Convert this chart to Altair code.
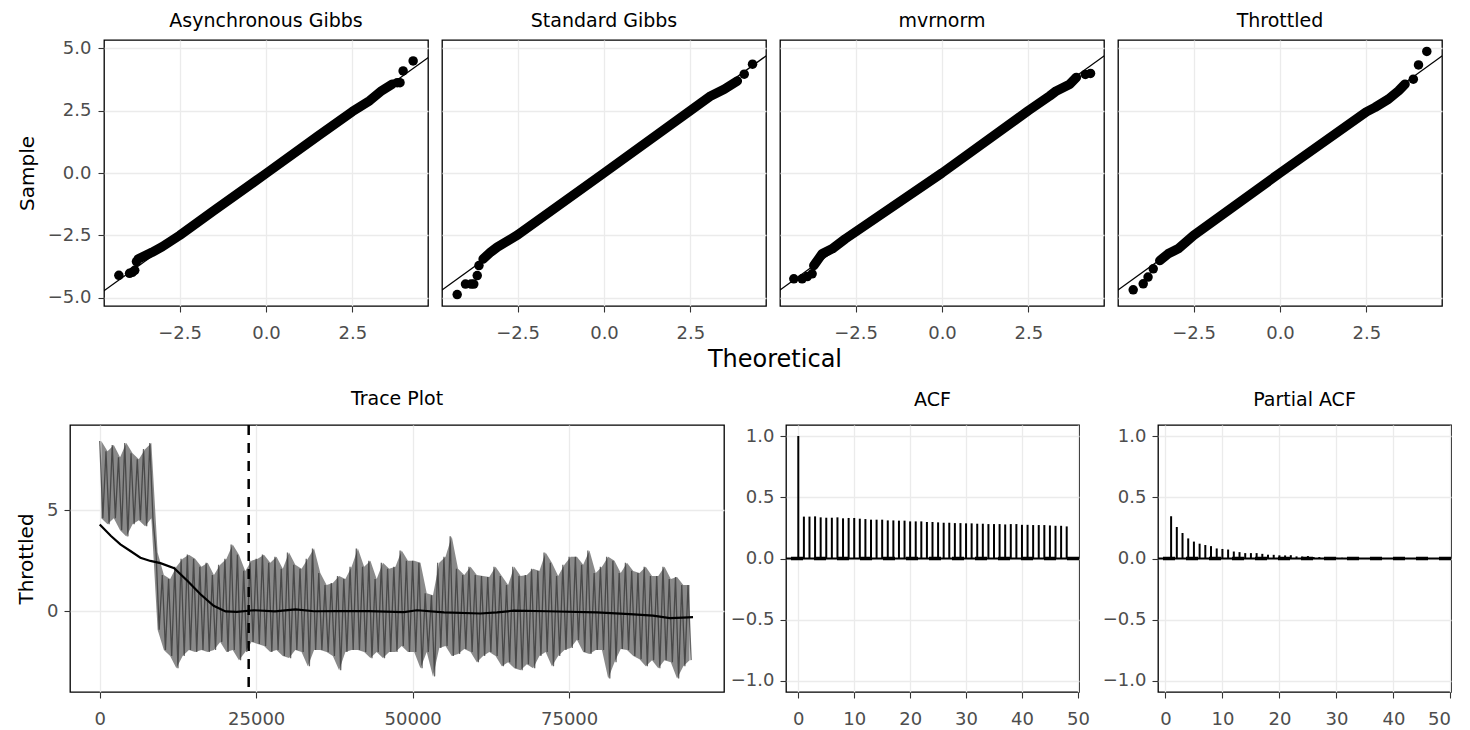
import altair as alt
import pandas as pd

FONT = "DejaVu Sans"

# ---------------- QQ panels ----------------
panel_names = ["Asynchronous Gibbs", "Standard Gibbs", "mvrnorm", "Throttled"]

# dense central band of the QQ points (theoretical, sample)
band_theo = [
    [-3.7, -3.3, -3.0, -2.5, -1.5, 0.0, 1.5, 2.5, 3.0, 3.35, 3.65],
    [-3.5, -3.28, -3.09, -2.5, 0.0, 2.5, 3.09, 3.48, 3.86],
    [-3.71, -3.47, -3.18, -2.8, 0.0, 2.5, 3.12, 3.31, 3.7, 3.89],
    [-3.48, -3.24, -2.95, -2.5, 0.0, 2.5, 2.75, 3.14, 3.43, 3.62],
]
band_samp = [
    [-3.45, -3.18, -2.95, -2.5, -1.5, -0.02, 1.48, 2.46, 2.9, 3.3, 3.56],
    [-3.45, -3.17, -2.97, -2.48, 0.0, 2.5, 3.09, 3.36, 3.69],
    [-3.71, -3.24, -3.04, -2.64, 0.0, 2.5, 3.09, 3.29, 3.56, 3.83],
    [-3.51, -3.24, -3.04, -2.5, 0.0, 2.45, 2.63, 2.96, 3.29, 3.56],
]
# isolated tail points
pts_theo = [
    [-4.26, -3.95, -3.87, -3.8, -3.75, 3.8, 3.88, 3.97, 4.26],
    [-4.25, -4.01, -3.85, -3.77, -3.67, -3.62, 4.06, 4.3],
    [-4.29, -4.05, -3.9, -3.76, 4.15, 4.3],
    [-4.25, -3.96, -3.82, -3.67, 3.86, 4.01, 4.25],
]
pts_samp = [
    [-4.1, -4.02, -3.98, -3.9, -3.55, 3.62, 3.62, 4.09, 4.49],
    [-4.87, -4.45, -4.45, -4.45, -4.11, -3.71, 3.96, 4.36],
    [-4.24, -4.24, -4.15, -4.04, 3.95, 3.99],
    [-4.68, -4.44, -4.17, -3.84, 3.76, 4.33, 4.87],
]
qq_intercept = [-0.05, 0.0, 0.0, 0.0]
qq_slope = [0.995, 1.0, 1.0, 1.0]
qq_ticks_x = [-2.5, 0.0, 2.5]
qq_ticks_y = [-5.0, -2.5, 0.0, 2.5, 5.0]

# ---------------- Trace plot ----------------
trace_hi = [8.4, 7.9, 8.2, 7.6, 8.3, 7.8, 7.5, 8.0, 8.3,
            2.9, 1.8, 1.6, 2.2, 2.6, 2.8, 2.6, 2.2, 2.4, 1.8,
            2.3, 2.6, 3.3, 2.8, 2.0, 2.5, 2.6, 2.8, 2.4, 2.7,
            2.1, 2.9, 2.3, 2.1, 2.6, 3.1, 1.9, 1.3, 1.4, 1.75,
            1.6, 2.2, 3.1, 2.2, 2.5, 1.6, 2.4, 2.1, 2.2, 3.0,
            2.5, 2.5, 2.4, 0.9, 0.8, 2.4, 2.7, 3.7, 2.1, 1.8,
            2.2, 1.8, 1.75, 1.7, 2.2, 1.75, 1.3, 2.2, 1.75, 1.8,
            2.1, 2.0, 2.9, 2.4, 1.75, 2.3, 2.7, 2.7, 2.3, 3.0,
            1.9, 2.2, 2.7, 2.5, 1.9, 2.4, 2.0, 1.9, 2.2, 1.75,
            1.75, 2.2, 1.6, 1.7, 1.3, 1.3]
trace_lo = [4.6, 4.3, 4.6, 4.0, 3.7, 4.3, 4.5, 4.2, 4.6,
            -0.9, -1.9, -2.2, -2.8, -2.2, -1.9, -2.0, -1.9, -2.0, -1.9,
            -1.5, -2.0, -1.9, -2.4, -2.0, -1.5, -1.6, -1.7, -2.0, -1.9,
            -2.2, -2.3, -1.9, -2.0, -2.7, -1.9, -1.9, -2.0, -2.2, -2.9,
            -2.0, -1.9, -1.9, -2.0, -2.3, -2.0, -2.3, -2.0, -2.0, -1.7,
            -2.0, -2.0, -2.8, -2.0, -3.2, -1.8, -1.7, -2.2, -2.1, -1.85,
            -2.0, -2.5, -2.2, -2.0, -2.2, -2.7, -2.5, -2.8, -2.9, -2.6,
            -2.8, -2.2, -2.0, -2.7, -2.2, -1.9, -1.8, -1.4, -2.0, -2.1,
            -1.9, -1.9, -3.3, -2.5, -1.85, -1.9, -2.2, -2.35, -2.7, -2.4,
            -2.8, -2.4, -2.5, -3.3, -2.7, -2.4]
trace_bin = 1000  # iterations per hi/lo pair

mean_iter = [0, 1800, 3300, 4900, 6500, 8100, 9700, 11900, 14000, 16100, 18200,
             20100, 21900, 24600, 28000, 31300, 34200, 37900, 43000, 48600, 50700,
             55000, 60800, 63500, 66100, 71400, 79400, 84700, 88400, 91100, 93200, 94800]
mean_val = [4.29, 3.72, 3.31, 2.98, 2.65, 2.49, 2.38, 2.13, 1.51, 0.85, 0.28,
            0.0, -0.02, 0.06, 0.0, 0.1, 0.01, 0.02, 0.02, -0.03, 0.06,
            -0.05, -0.1, -0.05, 0.04, 0.01, -0.05, -0.13, -0.21, -0.33, -0.3, -0.28]
burnin = [23800]
trace_ticks_x = [0, 25000, 50000, 75000]
trace_ticks_y = [0, 5]

# ---------------- ACF / PACF ----------------
acf_lag = list(range(0, 49))
acf_val = [1.0, 0.342, 0.342, 0.344, 0.336, 0.333, 0.333, 0.336, 0.328, 0.331, 0.331,
           0.325, 0.322, 0.317, 0.317, 0.317, 0.311, 0.311, 0.309, 0.309, 0.303,
           0.303, 0.303, 0.298, 0.298, 0.295, 0.292, 0.292, 0.289, 0.289, 0.287,
           0.287, 0.284, 0.284, 0.281, 0.281, 0.281, 0.278, 0.281, 0.281, 0.275,
           0.275, 0.273, 0.273, 0.273, 0.270, 0.267, 0.267, 0.262]
pacf_lag = list(range(1, 49))
pacf_val = [0.345, 0.257, 0.208, 0.164, 0.138, 0.121, 0.11, 0.101, 0.082, 0.078,
            0.073, 0.057, 0.052, 0.044, 0.044, 0.044, 0.038, 0.031, 0.03, 0.026,
            0.025, 0.027, 0.017, 0.016, 0.02, 0.012, 0.012, 0.008, 0.007, 0.006,
            0.006, 0.005, 0.006, 0.005, 0.004, 0.005, 0.004, 0.004, 0.003, 0.004,
            0.003, 0.003, 0.004, 0.003, 0.002, 0.003, 0.002, 0.002]
conf_band = [-0.0065, 0.0065]
acf_ticks_x = [0, 10, 20, 30, 40, 50]
acf_ticks_y = [-1.0, -0.5, 0.0, 0.5, 1.0]

TITLE_SIZE = 19
TOP_TITLE_OFFSET = 9
BOTTOM_TITLE_OFFSET = 15
YTITLE_SIZE = 20

qq_xs = alt.Scale(domain=[-4.69, 4.69], nice=False, zero=False)
qq_ys = alt.Scale(domain=[-5.33, 5.33], nice=False, zero=False)


def qq_panel(i):
    first = i == 0
    band = pd.DataFrame({"t": band_theo[i], "s": band_samp[i]})
    pts = pd.DataFrame({"t": pts_theo[i], "s": pts_samp[i]})
    ref = pd.DataFrame({"t": [-6.0, 6.0],
                        "s": [qq_intercept[i] - 6.0 * qq_slope[i],
                              qq_intercept[i] + 6.0 * qq_slope[i]]})
    xax = alt.Axis(values=qq_ticks_x, format=".1f", title=None)
    yax = alt.Axis(values=qq_ticks_y, title=None, labels=False, ticks=first)
    x = alt.X("t:Q", scale=qq_xs, axis=xax)
    y = alt.Y("s:Q", scale=qq_ys, axis=yax)
    base_ref = alt.Chart(ref).mark_line(color="black", strokeWidth=1.3, clip=True).encode(x=x, y=y)
    base_band = alt.Chart(band).mark_line(color="black", strokeWidth=9.5, strokeCap="round",
                                          strokeJoin="round").encode(x=x, y=y)
    base_pts = alt.Chart(pts).mark_circle(color="black", size=90, opacity=1).encode(x=x, y=y)
    return alt.layer(base_ref, base_band, base_pts).properties(
        width=324, height=266,
        title=alt.TitleParams(panel_names[i], fontSize=TITLE_SIZE, offset=TOP_TITLE_OFFSET))


# a narrow chart that only carries the shared "Sample" axis of the top row
sample_axis = alt.Chart(pd.DataFrame({"s": [0.0]})).mark_point(opacity=0).encode(
    y=alt.Y("s:Q", scale=qq_ys,
            axis=alt.Axis(values=qq_ticks_y, format=".1f", title="Sample",
                          titleFontSize=YTITLE_SIZE, ticks=False, tickSize=0,
                          labelPadding=-21, grid=False))
).properties(width=22, height=266,
             title=alt.TitleParams(" ", fontSize=TITLE_SIZE, offset=TOP_TITLE_OFFSET),
             view=alt.ViewBackground(strokeOpacity=0))

top_panels = alt.hconcat(*[qq_panel(i) for i in range(4)], spacing=12)
top = alt.hconcat(sample_axis, top_panels, spacing=4).properties(
    title=alt.TitleParams("Theoretical", orient="bottom", anchor="middle", fontSize=24,
                          offset=5, dx=45))

# ---- trace ----
zig_it, zig_v = [], []
for k in range(len(trace_hi)):
    zig_it.append(k * trace_bin)
    zig_v.append(trace_hi[k])
    zig_it.append(k * trace_bin + trace_bin // 2)
    zig_v.append(trace_lo[k])
trace_df = pd.DataFrame({"it": zig_it, "v": zig_v})
band_df = pd.DataFrame({"it": [k * trace_bin + trace_bin // 4 for k in range(len(trace_hi))],
                        "hi": trace_hi, "lo": trace_lo})
mean_df = pd.DataFrame({"it": mean_iter, "v": mean_val})
burn_df = pd.DataFrame({"it": burnin})

tx = alt.Scale(domain=[-4750, 99750], nice=False, zero=False)
ty = alt.Scale(domain=[-3.97, 9.19], nice=False, zero=False)
t_xax = alt.Axis(values=trace_ticks_x, format="d", title=None)
t_yax = alt.Axis(values=trace_ticks_y, format="d", title="Throttled", titleFontSize=YTITLE_SIZE)

trace_area = alt.Chart(band_df).mark_area(color="#7d7d7d", opacity=0.9).encode(
    x=alt.X("it:Q", scale=tx, axis=t_xax), y=alt.Y("lo:Q", scale=ty, axis=t_yax), y2="hi:Q")
trace_line = alt.Chart(trace_df).mark_line(color="#333333", opacity=0.75, strokeWidth=1.3).encode(
    x=alt.X("it:Q", scale=tx), y=alt.Y("v:Q", scale=ty))
mean_line = alt.Chart(mean_df).mark_line(color="black", strokeWidth=2.2).encode(
    x=alt.X("it:Q", scale=tx), y=alt.Y("v:Q", scale=ty))
burn_rule = alt.Chart(burn_df).mark_rule(color="black", strokeWidth=2.5, strokeDash=[10, 8]).encode(
    x=alt.X("it:Q", scale=tx))
trace = alt.layer(trace_area, trace_line, mean_line, burn_rule).properties(
    width=654, height=267,
    title=alt.TitleParams("Trace Plot", fontSize=TITLE_SIZE, offset=BOTTOM_TITLE_OFFSET))


def acf_panel(lags, vals, title, xdom):
    df = pd.DataFrame({"lag": lags, "v": vals, "z": [0.0] * len(lags)})
    conf = pd.DataFrame({"c": conf_band})
    zero = pd.DataFrame({"c": [0.0]})
    xs = alt.Scale(domain=xdom, nice=False, zero=False)
    ys = alt.Scale(domain=[-1.09, 1.09], nice=False, zero=False)
    xax = alt.Axis(values=acf_ticks_x, format="d", title=None)
    yax = alt.Axis(values=acf_ticks_y, format=".1f", title=None)
    bars = alt.Chart(df).mark_rule(color="black", strokeWidth=2).encode(
        x=alt.X("lag:Q", scale=xs, axis=xax),
        y=alt.Y("z:Q", scale=ys, axis=yax), y2="v:Q")
    zl = alt.Chart(zero).mark_rule(color="black", strokeWidth=1.8).encode(
        y=alt.Y("c:Q", scale=ys))
    cl = alt.Chart(conf).mark_rule(color="black", strokeWidth=2, strokeDash=[12, 11]).encode(
        y=alt.Y("c:Q", scale=ys))
    return alt.layer(bars, cl, zl).properties(
        width=293, height=267,
        title=alt.TitleParams(title, fontSize=TITLE_SIZE, offset=BOTTOM_TITLE_OFFSET))


acf = acf_panel(acf_lag, acf_val, "ACF", [-2.2, 50.2])
pacf = acf_panel(pacf_lag, pacf_val, "Partial ACF", [-1.3, 50.1])

bottom = alt.hconcat(trace, alt.hconcat(acf, pacf, spacing=11), spacing=4)

chart = alt.concat(top, bottom, columns=1, spacing=17, align="none").properties(
    padding={"left": 7, "top": 3, "right": 0, "bottom": 0}
).configure_view(
    stroke="black", strokeWidth=1.3
).configure_axis(
    gridColor="#EBEBEB", gridWidth=1.3, tickColor="#333333", tickSize=6, tickWidth=1.1,
    labelColor="#4D4D4D", labelFontSize=18, labelFont=FONT, labelPadding=6,
    titleFont=FONT, titleFontSize=24, titleFontWeight="normal", titleColor="black",
    titlePadding=10, domain=False
).configure_axisX(
    labelPadding=12
).configure_title(
    font=FONT, fontSize=TITLE_SIZE, fontWeight="normal", color="black"
)

chart.save("out.html", embed_options={"renderer": "svg", "actions": False})
